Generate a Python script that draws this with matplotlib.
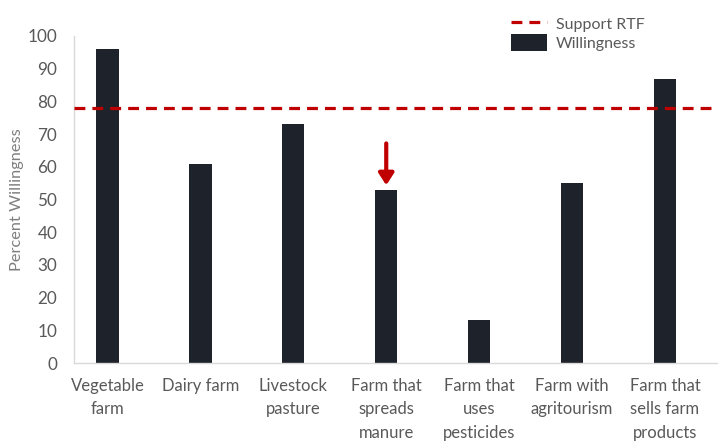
import matplotlib.pyplot as plt
import numpy as np

# Data
categories = ['Vegetable\nfarm', 'Dairy farm', 'Livestock\npasture',
              'Farm that\nspreads\nmanure', 'Farm that\nuses\npesticides',
              'Farm with\nagritourism', 'Farm that\nsells farm\nproducts']
willingness = [96, 61, 73, 53, 13, 55, 87]
support_rtf = 78
highlight_idx = 3  # arrow above "spreads manure"

bar_color = '#1e222a'
red = '#c00000'
text_grey = '#595959'

plt.rcParams['font.family'] = ['Lato', 'DejaVu Sans']

fig = plt.figure(figsize=(7.18, 4.41), dpi=100)
ax = fig.add_axes([74 / 718, 78 / 441, (718 - 74) / 718, (363 - 36) / 441])

x = np.arange(len(categories))
bars = ax.bar(x, willingness, width=0.24, color=bar_color, label='Willingness', zorder=2)
line = ax.axhline(support_rtf, color=red, linestyle=(0, (3.4, 2.2)), linewidth=2.3,
                  label='Support RTF', zorder=3)

# red arrow pointing at the highlighted bar
ax.annotate('', xy=(highlight_idx, willingness[highlight_idx] + 0.5),
            xytext=(highlight_idx, willingness[highlight_idx] + 15),
            arrowprops=dict(arrowstyle='-|>,head_width=0.45,head_length=0.7',
                            color=red, lw=3), zorder=4)

ax.set_xlim(-0.36, 6.57)
ax.set_ylim(0, 100)
ax.set_yticks(range(0, 101, 10))
ax.set_xticks(x)
ax.set_xticklabels(categories, fontsize=12, color=text_grey, linespacing=1.55,
                   va='top')
ax.tick_params(axis='y', labelsize=12.3, labelcolor=text_grey, length=0, pad=12)
ax.tick_params(axis='x', length=0, pad=11)

for s in ['top', 'right']:
    ax.spines[s].set_visible(False)
for s in ['left', 'bottom']:
    ax.spines[s].set_color('#d9d9d9')
    ax.spines[s].set_linewidth(1)

ax.set_ylabel('Percent Willingness', fontsize=11.8, color='#7f7f7f')
ax.yaxis.set_label_coords(-0.077, 0.5)

fig.legend(handles=[line, bars], labels=['Support RTF', 'Willingness'],
           loc='upper left', bbox_to_anchor=(497 / 718, 1 - 1 / 441),
           frameon=False, fontsize=11.5, labelcolor=text_grey,
           handlelength=2.2, handleheight=1.3, labelspacing=0.05,
           handletextpad=0.6)

plt.savefig('out.png', dpi=100)
